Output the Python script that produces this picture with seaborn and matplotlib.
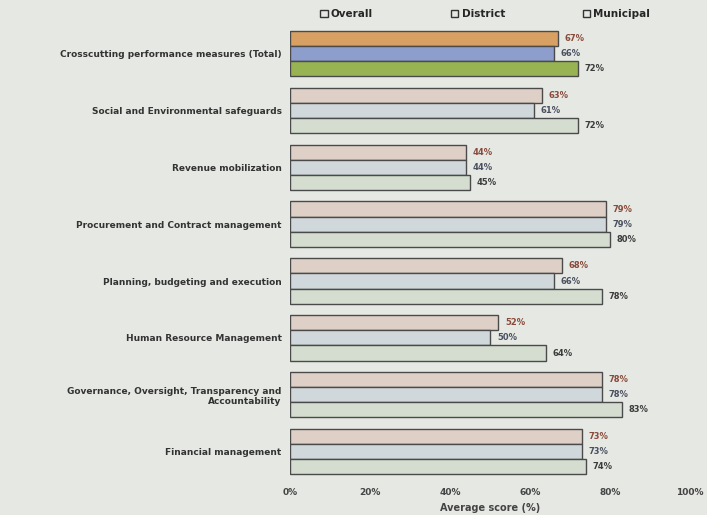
import numpy as np
import pandas as pd
import matplotlib
matplotlib.use("Agg")
import matplotlib.pyplot as plt
import seaborn as sns

categories = [
    "Crosscutting performance measures (Total)",
    "Social and Environmental safeguards",
    "Revenue mobilization",
    "Procurement and Contract management",
    "Planning, budgeting and execution",
    "Human Resource Management",
    "Governance, Oversight, Transparency and\nAccountability",
    "Financial management",
]
series = ["Overall", "District", "Municipal"]
overall = [67, 63, 44, 79, 68, 52, 78, 73]
district = [66, 61, 44, 79, 66, 50, 78, 73]
municipal = [72, 72, 45, 80, 78, 64, 83, 74]
xticks = [0, 20, 40, 60, 80, 100]

light_cols = ["#e2cfc2", "#cfd8de", "#d3dfcd"]
strong_cols = ["#d9a064", "#8d9dcc", "#98b452"]
label_cols = ["#8a4a3a", "#4a5060", "#3c3c3c"]

rows = []
for name, vals in zip(series, [overall, district, municipal]):
    for c, v in zip(categories, vals):
        rows.append({"category": c, "series": name, "score": v})
df = pd.DataFrame(rows)

sns.set_style("white")
plt.rcParams["font.family"] = ["DejaVu Sans"]

fig = plt.figure(figsize=(7.07, 5.15), dpi=100)
fig.patch.set_facecolor("#e5e8e3")
ax = fig.add_axes([0.41, 0.068, 0.566, 0.883])
ax.set_facecolor("#e5e8e3")

sns.barplot(data=df, y="category", x="score", hue="series", orient="h",
            palette=light_cols, edgecolor="#4a4a4a", linewidth=1.0,
            width=0.8, ax=ax, legend=False)

# first group is drawn with saturated colours
for i, cont in enumerate(ax.containers):
    cont[0].set_facecolor(strong_cols[i])
    ax.bar_label(cont, labels=[f"{int(round(v))}%" for v in cont.datavalues], padding=5,
                 fontsize=6, fontweight="bold", color=label_cols[i])

ax.set_xlim(0, 100)
ax.set_xticks(xticks)
ax.set_xticklabels([f"{t}%" for t in xticks], fontsize=6.5, fontweight="bold", color="#444")
ax.tick_params(axis="y", labelsize=6.5, length=0, pad=6, labelcolor="#333")
for lbl in ax.get_yticklabels():
    lbl.set_fontweight("bold")
ax.tick_params(axis="x", length=0, pad=6)
ax.set_xlabel("Average score (%)", fontsize=7, fontweight="bold", color="#444", labelpad=4)
ax.set_ylabel("")
sns.despine(ax=ax, left=True, bottom=True)

handles = [plt.Rectangle((0, 0), 1, 1, facecolor="#e5e8e3", edgecolor="#333", linewidth=1)
           for _ in series]
fig.legend(handles, series, loc="upper left", bbox_to_anchor=(0.44, 1.0), ncol=3,
           frameon=False, prop={"weight": "bold", "size": 7.5},
           handlelength=0.7, handleheight=0.7, handletextpad=0.3, columnspacing=7.5)

fig.savefig("out.png", dpi=100, facecolor=fig.get_facecolor())
